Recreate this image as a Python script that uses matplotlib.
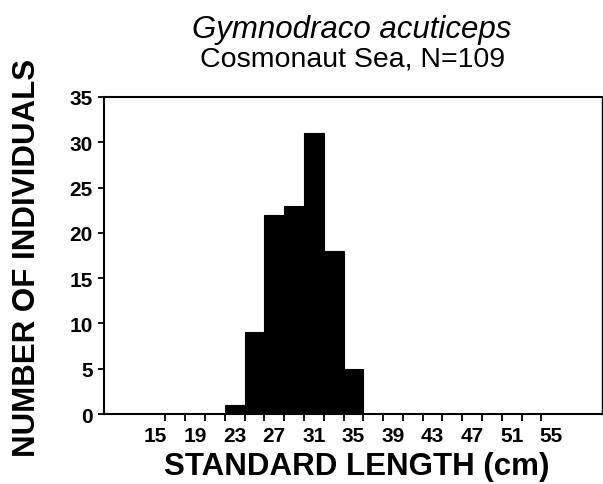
import matplotlib
matplotlib.use('Agg')
import matplotlib.pyplot as plt

# dados
length_centers = [23, 25, 27, 29, 31, 33, 35]
counts = [1, 9, 22, 23, 31, 18, 5]
bin_width = 2
xtick_labels = [15, 19, 23, 27, 31, 35, 39, 43, 47, 51, 55]
edge_ticks = list(range(16, 55, 2))
ytick_values = [0, 5, 10, 15, 20, 25, 30, 35]

plt.rcParams['font.family'] = ['Liberation Sans', 'DejaVu Sans']

fig = plt.figure(figsize=(6.03, 4.85), dpi=100)
ax = fig.add_axes([0.1725, 0.1443, 0.8255, 0.6537])

ax.bar(length_centers, counts, width=bin_width, color='black',
       edgecolor='black', linewidth=0.8)

ax.set_xlim(9.8, 60.1)
ax.set_ylim(0, 35)

# rótulos nos centros, marcas nas bordas das classes
ax.set_xticks(xtick_labels)
ax.set_xticklabels([str(v) for v in xtick_labels], fontsize=15, weight='bold')
ax.set_xticks(edge_ticks, minor=True)
ax.tick_params(axis='x', which='major', length=0, pad=8.5)
ax.tick_params(axis='x', which='minor', length=5, width=1.3, direction='out')

ax.set_yticks(ytick_values)
ax.set_yticklabels([str(v) for v in ytick_values], fontsize=15, weight='bold')
ax.tick_params(axis='y', length=4.5, width=1.3, direction='out', pad=3.5)

for side in ['left', 'bottom', 'top', 'right']:
    ax.spines[side].set_linewidth(1.5)
ax.spines['right'].set_linewidth(1.0)

fig.text(0.584, 0.922, 'Gymnodraco acuticeps', ha='center', va='baseline',
         fontsize=22.5, style='italic')
fig.text(0.584, 0.862, 'Cosmonaut Sea, N=109', ha='center', va='baseline',
         fontsize=20.5)
fig.text(0.592, 0.021, 'STANDARD LENGTH (cm)', ha='center', va='baseline',
         fontsize=22.5, weight='bold')
fig.text(0.045, 0.468, 'NUMBER OF INDIVIDUALS', ha='center', va='center',
         rotation=90, fontsize=22.5, weight='bold')

fig.savefig('out.png', dpi=100)
